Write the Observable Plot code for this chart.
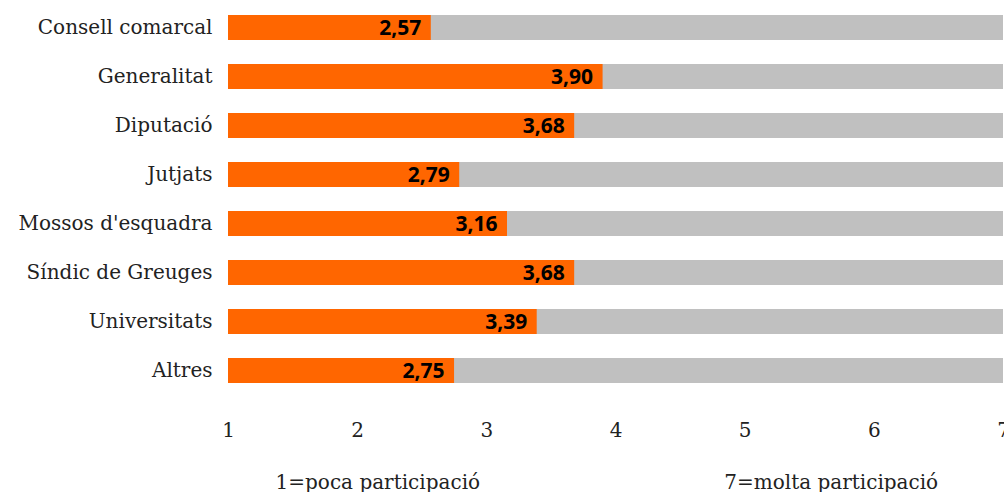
<!DOCTYPE html>
<html>
<head>
<meta charset="utf-8">
<script src="https://cdn.jsdelivr.net/npm/d3@7"></script>
<script src="https://cdn.jsdelivr.net/npm/@observablehq/plot@0.6"></script>
<style>
  html, body { margin: 0; padding: 0; background: #fff; }
  #chart { width: 1004px; }
  #caption { position: relative; width: 1004px; height: 32px; font-family: "DejaVu Serif", serif; font-size: 20px; color: #222; }
  #caption span { position: absolute; top: 10px; transform: translateX(-50%); white-space: nowrap; }
</style>
</head>
<body>
<div id="chart"></div>
<div id="caption"></div>
<script>
const categories = ["Consell comarcal", "Generalitat", "Diputació", "Jutjats", "Mossos d'esquadra", "Síndic de Greuges", "Universitats", "Altres"];
const values = [2.57, 3.90, 3.68, 2.79, 3.16, 3.68, 3.39, 2.75];
const scaleMin = 1;
const scaleMax = 7;
const xTicks = [1, 2, 3, 4, 5, 6, 7];
const captionLow = "1=poca participació";
const captionHigh = "7=molta participació";

const data = categories.map((c, i) => ({category: c, value: values[i], min: scaleMin, max: scaleMax}));
const fmt = v => v.toFixed(2).replace(".", ",");

const plot = Plot.plot({
  width: 1004,
  height: 460,
  marginLeft: 228,
  marginRight: 1,
  marginTop: 13,
  marginBottom: 76,
  style: {fontFamily: "DejaVu Serif, serif", fontSize: "20px", color: "#222", background: "#fff"},
  x: {type: "linear", domain: [scaleMin, scaleMax], ticks: xTicks, tickSize: 0, tickPadding: 38, label: null, tickFormat: d => String(d)},
  y: {domain: categories, paddingInner: 0.494, paddingOuter: 0, tickSize: 0, tickPadding: 16, label: null},
  marks: [
    Plot.barX(data, {y: "category", x1: "min", x2: "max", fill: "#c0c0c0"}),
    Plot.barX(data, {y: "category", x1: "min", x2: "value", fill: "#ff6600"}),
    Plot.text(data, {y: "category", x: "value", text: d => fmt(d.value), textAnchor: "end", dx: -10, fill: "#000", fontWeight: "bold", fontFamily: "Open Sans, sans-serif", fontSize: 21})
  ]
});
document.getElementById("chart").appendChild(plot);

const xs = plot.scale("x");
const cap = document.getElementById("caption");
[[captionLow, 2.16], [captionHigh, 5.67]].forEach(([t, v]) => {
  const s = document.createElement("span");
  s.textContent = t;
  s.style.left = xs.apply(v) + "px";
  cap.appendChild(s);
});
</script>
</body>
</html>
